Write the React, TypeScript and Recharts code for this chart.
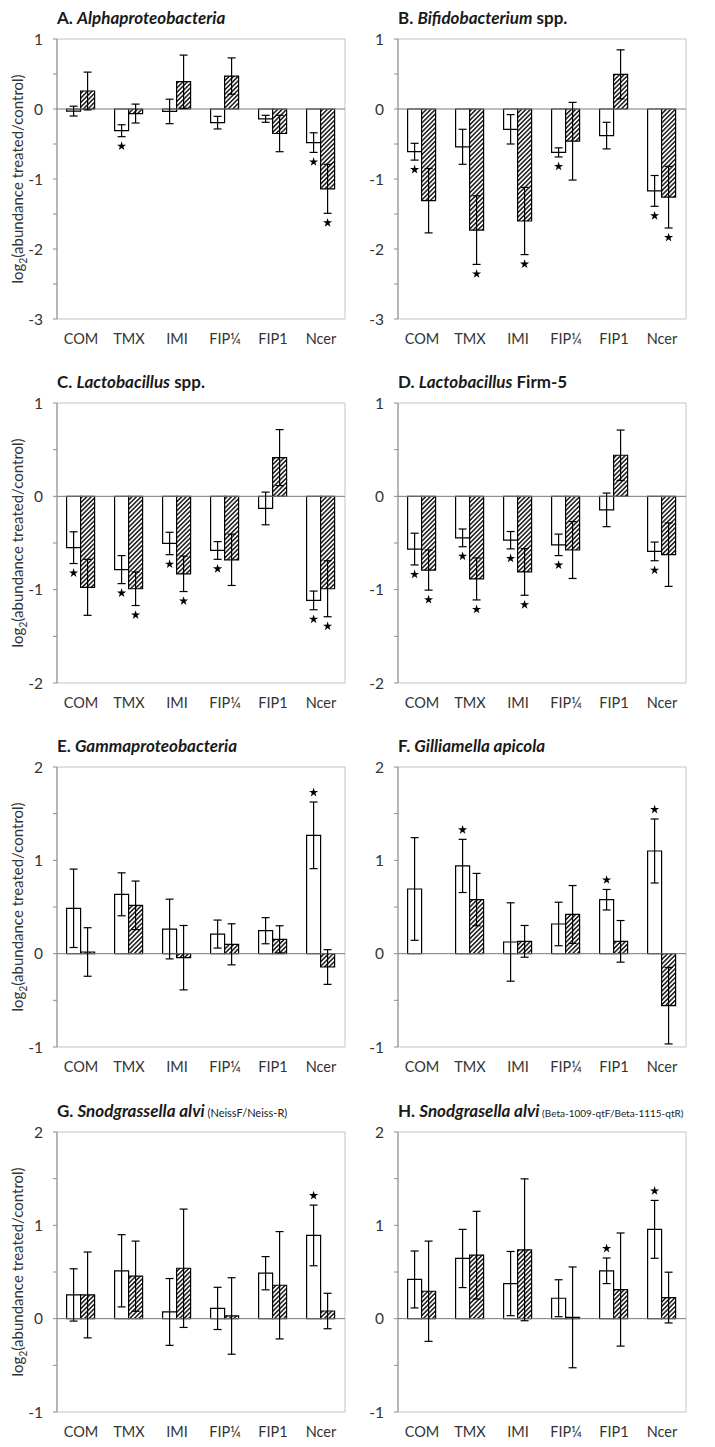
import React from "react";
import {
  Bar,
  BarChart,
  ErrorBar,
  LabelList,
  ReferenceArea,
  ReferenceLine,
  Symbols,
  XAxis,
  YAxis,
} from "recharts";

const treatments = ["COM", "TMX", "IMI", "FIP¼", "FIP1", "Ncer"];

const ticksA = [-3, -2.5, -2, -1.5, -1, -0.5, 0, 0.5, 1];
const ticksC = [-2, -1.5, -1, -0.5, 0, 0.5, 1];
const ticksE = [-1, -0.5, 0, 0.5, 1, 1.5, 2];

// A. Alphaproteobacteria
const alphaOpen = [-0.03, -0.31, -0.035, -0.195, -0.14, -0.48];
const alphaOpenErr = [0.07, 0.085, 0.175, 0.09, 0.05, 0.14];
const alphaOpenSig = [0, 1, 0, 0, 0, 1];
const alphaHatch = [0.257, -0.065, 0.39, 0.47, -0.35, -1.14];
const alphaHatchErr = [0.27, 0.135, 0.38, 0.26, 0.26, 0.35];
const alphaHatchSig = [0, 0, 0, 0, 0, 1];

// B. Bifidobacterium spp.
const bifidoOpen = [-0.61, -0.54, -0.29, -0.62, -0.38, -1.17];
const bifidoOpenErr = [0.12, 0.25, 0.21, 0.065, 0.19, 0.22];
const bifidoOpenSig = [1, 0, 0, 1, 0, 1];
const bifidoHatch = [-1.31, -1.73, -1.6, -0.46, 0.495, -1.26];
const bifidoHatchErr = [0.46, 0.49, 0.48, 0.555, 0.35, 0.44];
const bifidoHatchSig = [0, 1, 1, 0, 0, 1];

// C. Lactobacillus spp.
const lactoOpen = [-0.55, -0.785, -0.505, -0.58, -0.13, -1.115];
const lactoOpenErr = [0.17, 0.15, 0.12, 0.095, 0.175, 0.1];
const lactoOpenSig = [1, 1, 1, 1, 0, 1];
const lactoHatch = [-0.975, -0.99, -0.83, -0.68, 0.415, -0.99];
const lactoHatchErr = [0.3, 0.18, 0.19, 0.275, 0.3, 0.3];
const lactoHatchSig = [0, 1, 1, 0, 0, 1];

// D. Lactobacillus Firm-5
const firmOpen = [-0.565, -0.445, -0.47, -0.52, -0.145, -0.59];
const firmOpenErr = [0.17, 0.095, 0.093, 0.115, 0.18, 0.1];
const firmOpenSig = [1, 1, 1, 1, 0, 1];
const firmHatch = [-0.79, -0.885, -0.81, -0.575, 0.44, -0.625];
const firmHatchErr = [0.215, 0.225, 0.25, 0.305, 0.27, 0.34];
const firmHatchSig = [1, 1, 1, 0, 0, 0];

// E. Gammaproteobacteria
const gammaOpen = [0.486, 0.636, 0.264, 0.21, 0.246, 1.268];
const gammaOpenErr = [0.42, 0.23, 0.32, 0.15, 0.14, 0.357];
const gammaOpenSig = [0, 0, 0, 0, 0, 1];
const gammaHatch = [0.018, 0.518, -0.043, 0.1, 0.154, -0.143];
const gammaHatchErr = [0.26, 0.26, 0.345, 0.22, 0.145, 0.186];
const gammaHatchSig = [0, 0, 0, 0, 0, 0];

// F. Gilliamella apicola
const gilliOpen = [0.693, 0.94, 0.125, 0.318, 0.578, 1.1];
const gilliOpenErr = [0.55, 0.285, 0.42, 0.233, 0.11, 0.343];
const gilliOpenSig = [0, 1, 0, 0, 1, 1];
const gilliHatch = [0.0, 0.58, 0.132, 0.42, 0.132, -0.557];
const gilliHatchErr = [0.165, 0.28, 0.17, 0.31, 0.223, 0.41];
const gilliHatchSig = [0, 0, 0, 0, 0, 0];

// G. Snodgrassella alvi (NeissF/Neiss-R)
const neissOpen = [0.254, 0.513, 0.072, 0.11, 0.487, 0.892];
const neissOpenErr = [0.28, 0.387, 0.358, 0.226, 0.178, 0.325];
const neissOpenSig = [0, 0, 0, 0, 0, 1];
const neissHatch = [0.254, 0.455, 0.54, 0.029, 0.358, 0.082];
const neissHatchErr = [0.46, 0.376, 0.634, 0.41, 0.575, 0.19];
const neissHatchSig = [0, 0, 0, 0, 0, 0];

// H. Snodgrasella alvi (Beta-1009-qtF/Beta-1115-qtR)
const betaOpen = [0.42, 0.645, 0.376, 0.219, 0.513, 0.957];
const betaOpenErr = [0.305, 0.312, 0.344, 0.198, 0.137, 0.31];
const betaOpenSig = [0, 0, 0, 0, 1, 1];
const betaHatch = [0.294, 0.68, 0.738, 0.014, 0.312, 0.226];
const betaHatchErr = [0.537, 0.47, 0.76, 0.54, 0.606, 0.272];
const betaHatchSig = [0, 0, 0, 0, 0, 0];

const FONT = "Lato, 'Open Sans', sans-serif";
const ROW_TOP = [0, 364, 728, 1093];
const COL_LEFT = [0, 357];

const panels = [
  { id: "a", title: <><b>A. </b><b><i>Alphaproteobacteria</i></b></>, open: alphaOpen, openErr: alphaOpenErr, openSig: alphaOpenSig, hatch: alphaHatch, hatchErr: alphaHatchErr, hatchSig: alphaHatchSig, ticks: ticksA },
  { id: "b", title: <><b>B. </b><b><i>Bifidobacterium</i> spp.</b></>, open: bifidoOpen, openErr: bifidoOpenErr, openSig: bifidoOpenSig, hatch: bifidoHatch, hatchErr: bifidoHatchErr, hatchSig: bifidoHatchSig, ticks: ticksA },
  { id: "c", title: <><b>C. </b><b><i>Lactobacillus</i> spp.</b></>, open: lactoOpen, openErr: lactoOpenErr, openSig: lactoOpenSig, hatch: lactoHatch, hatchErr: lactoHatchErr, hatchSig: lactoHatchSig, ticks: ticksC },
  { id: "d", title: <><b>D. </b><b><i>Lactobacillus</i> Firm-5</b></>, open: firmOpen, openErr: firmOpenErr, openSig: firmOpenSig, hatch: firmHatch, hatchErr: firmHatchErr, hatchSig: firmHatchSig, ticks: ticksC },
  { id: "e", title: <><b>E. </b><b><i>Gammaproteobacteria</i></b></>, open: gammaOpen, openErr: gammaOpenErr, openSig: gammaOpenSig, hatch: gammaHatch, hatchErr: gammaHatchErr, hatchSig: gammaHatchSig, ticks: ticksE },
  { id: "f", title: <><b>F. </b><b><i>Gilliamella apicola</i></b></>, open: gilliOpen, openErr: gilliOpenErr, openSig: gilliOpenSig, hatch: gilliHatch, hatchErr: gilliHatchErr, hatchSig: gilliHatchSig, ticks: ticksE },
  { id: "g", title: <><b>G. </b><b><i>Snodgrassella alvi</i></b><span style={{ fontSize: 11 }}> (NeissF/Neiss-R)</span></>, open: neissOpen, openErr: neissOpenErr, openSig: neissOpenSig, hatch: neissHatch, hatchErr: neissHatchErr, hatchSig: neissHatchSig, ticks: ticksE },
  { id: "h", title: <><b>H. </b><b><i>Snodgrasella alvi</i></b><span style={{ fontSize: 10 }}> (Beta-1009-qtF/Beta-1115-qtR)</span></>, open: betaOpen, openErr: betaOpenErr, openSig: betaOpenSig, hatch: betaHatch, hatchErr: betaHatchErr, hatchSig: betaHatchSig, ticks: ticksE },
];

// star sits just past the end of the error bar, using the bar's own pixel geometry
function starContent(vals: number[], errs: number[], sig: number[]) {
  return (props: any) => {
    const i = props.index;
    if (!sig[i]) return null;
    const vb = props.viewBox && props.viewBox.width != null ? props.viewBox : props;
    const x = Number(vb.x);
    const w = Number(vb.width);
    const y = Number(vb.y);
    const h = Number(vb.height);
    const top = Math.min(y, y + h);
    const bottom = Math.max(y, y + h);
    const v = vals[i];
    const k = (bottom - top) / Math.abs(v);
    const cx = x + w / 2;
    const cy = v >= 0 ? top - errs[i] * k - 9.5 : bottom + errs[i] * k + 9.5;
    return <Symbols type="star" size={26} cx={cx} cy={cy} fill="#000" stroke="none" />;
  };
}

function Panel({ p, idx }: { p: (typeof panels)[number]; idx: number }) {
  const row = Math.floor(idx / 2);
  const col = idx % 2;
  const data = treatments.map((name, i) => ({
    name,
    open: p.open[i],
    openErr: p.openErr[i],
    hatch: p.hatch[i],
    hatchErr: p.hatchErr[i],
  }));
  const yWidth = col === 0 ? 57 : 41;
  const domain = [p.ticks[0], p.ticks[p.ticks.length - 1]];
  return (
    <div style={{ position: "absolute", left: COL_LEFT[col], top: ROW_TOP[row], width: 357, height: 364 }}>
      <div
        style={{
          position: "absolute",
          left: yWidth,
          top: 9,
          fontFamily: FONT,
          fontSize: 17,
          lineHeight: "17px",
          color: "#1a1a1a",
          whiteSpace: "nowrap",
        }}
      >
        {p.title}
      </div>
      {col === 0 && (
        <div
          style={{
            position: "absolute",
            left: 17,
            top: 39 + 140,
            transform: "translate(-50%, -50%) rotate(-90deg)",
            fontFamily: FONT,
            fontSize: 15,
            lineHeight: "16px",
            color: "#333",
            whiteSpace: "nowrap",
          }}
        >
          log<sub style={{ fontSize: 10.5, lineHeight: 0 }}>2</sub>(abundance treated/control)
        </div>
      )}
      <BarChart
        width={357}
        height={364}
        data={data}
        margin={{ top: 39, right: col === 0 ? 12 : 28, bottom: 15, left: 0 }}
        barCategoryGap="20%"
        barGap={0}
      >
        <defs>
          <pattern
            id={`hatch-${p.id}`}
            patternUnits="userSpaceOnUse"
            width={3.2}
            height={3.2}
            patternTransform="rotate(45)"
          >
            <rect width={3.2} height={3.2} fill="#fff" />
            <line x1={1.6} y1={0} x2={1.6} y2={3.2} stroke="#000" strokeWidth={1.35} />
          </pattern>
        </defs>
        <ReferenceArea y1={domain[0]} y2={domain[1]} fill="none" stroke="#c4c4c4" strokeWidth={1} />
        <XAxis
          dataKey="name"
          axisLine={false}
          tickLine={false}
          tickMargin={9}
          interval={0}
          tick={{ fill: "#333", fontSize: 14.5, fontFamily: FONT }}
        />
        <YAxis
          type="number"
          domain={domain}
          ticks={p.ticks}
          width={yWidth}
          interval={0}
          allowDataOverflow
          tickFormatter={(v: number) => (Number.isInteger(v) ? String(v) : "")}
          axisLine={{ stroke: "#8c8c8c" }}
          tickLine={{ stroke: "#8c8c8c" }}
          tickSize={4}
          tickMargin={10}
          tick={{ fill: "#333", fontSize: 15.5, fontFamily: FONT }}
        />
        <ReferenceLine y={0} stroke="#7a7a7a" strokeWidth={1} />
        <Bar dataKey="open" fill="#fff" stroke="#000" strokeWidth={1.2} isAnimationActive={false}>
          <ErrorBar dataKey="openErr" width={4} stroke="#000" strokeWidth={1.2} isAnimationActive={false} />
          <LabelList dataKey="open" content={starContent(p.open, p.openErr, p.openSig)} />
        </Bar>
        <Bar dataKey="hatch" fill={`url(#hatch-${p.id})`} stroke="#000" strokeWidth={1.2} isAnimationActive={false}>
          <ErrorBar dataKey="hatchErr" width={4} stroke="#000" strokeWidth={1.2} isAnimationActive={false} />
          <LabelList dataKey="hatch" content={starContent(p.hatch, p.hatchErr, p.hatchSig)} />
        </Bar>
      </BarChart>
    </div>
  );
}

export default function App() {
  return (
    <div style={{ position: "absolute", left: 0, top: 0, width: 715, height: 1447, background: "#fff" }}>
      {panels.map((p, i) => (
        <Panel key={p.id} p={p} idx={i} />
      ))}
    </div>
  );
}
